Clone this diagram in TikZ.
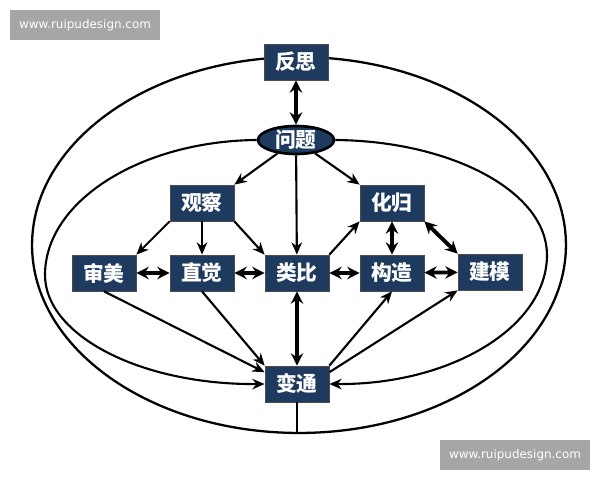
\documentclass[tikz,border=0pt]{standalone}
\usepackage{fontspec}
\newfontfamily\cjk{Noto Sans CJK SC}
\newfontfamily\wmfont{DejaVu Sans}
\usetikzlibrary{arrows.meta, shapes.geometric}
\definecolor{navy}{RGB}{30,58,95}
\definecolor{wmgray}{RGB}{166,166,166}

\begin{document}
\begin{tikzpicture}[x=0.02cm, y=-0.02cm,
    box/.style={rectangle, fill=navy, draw=black!70, text=white, minimum width=1.28cm, minimum height=0.72cm, inner sep=0pt, font=\cjk\bfseries\fontsize{11.8}{13}\selectfont},
    oval/.style={ellipse, fill=navy, draw=black, line width=1.5pt, text=white, minimum width=1.52cm, minimum height=0.56cm, inner sep=0pt, font=\cjk\bfseries\fontsize{11.8}{13}\selectfont},
    wmark/.style={rectangle, fill=wmgray, text=white, minimum width=3cm, minimum height=0.6cm, inner sep=0pt, font=\wmfont\fontsize{6.8}{8}\selectfont},
    single/.style={-{Stealth[length=7pt,width=6pt]}, line width=1.2pt},
    both/.style={{Stealth[length=7pt,width=7pt]}-{Stealth[length=7pt,width=7pt]}, line width=2.2pt},
    loop/.style={line width=1.3pt}]
    \useasboundingbox (0,0) rectangle (600,480);

    \draw[loop] (299,245) circle [x radius=5.34cm, y radius=3.76cm];
    \coordinate (rim) at (299,433);

    \node[box] (fansi) at (296,62) {反思};
    \node[oval] (wenti) at (296,140) {问题};
    \node[box] (guancha) at (202,203) {观察};
    \node[box] (huagui) at (392,203) {化归};
    \node[box] (shenmei) at (104,273) {审美};
    \node[box] (zhijue) at (202,273) {直觉};
    \node[box] (leibi) at (297,273) {类比};
    \node[box] (gouzao) at (392,273) {构造};
    \node[box] (jianmo) at (490,272) {建模};
    \node[box] (biantong) at (297,384) {变通};

    \draw[both] (fansi) -- (wenti);
    \draw[single] (wenti) -- (guancha.north east);
    \draw[single] (wenti) -- (leibi);
    \draw[single] (wenti) -- (huagui.north west);
    \draw[single] (guancha.south west) -- (shenmei.north east);
    \draw[single] (guancha) -- (zhijue);
    \draw[single] (guancha.south east) -- (leibi.north west);
    \draw[single] (leibi.north east) -- (huagui.south west);
    \draw[both] (shenmei) -- (zhijue);
    \draw[both] (zhijue) -- (leibi);
    \draw[both] (leibi) -- (gouzao);
    \draw[both] (gouzao) -- (jianmo);
    \draw[both] (huagui) -- (gouzao);
    \draw[both] (huagui.south east) -- (jianmo.north west);
    \draw[both] (leibi) -- (biantong);
    \draw[single] (shenmei.south) -- (biantong.160);
    \draw[single] (zhijue.south) -- (biantong.north west);
    \draw[single] (biantong.north east) -- (gouzao.south);
    \draw[single] (biantong.20) -- (jianmo.south west);

    \draw[single] (wenti.west) .. controls (141,141) and (45,201) .. (45,275)
        .. controls (45,335) and (140,385) .. (biantong.west);
    \draw[single] (wenti.east) .. controls (452,141) and (547,192) .. (547,255)
        .. controls (547,327) and (451,385) .. (biantong.east);
    \draw[loop] (biantong.south) -- (biantong.south |- rim);

    \node[wmark] (wm1) at (85,25) {www.ruipudesign.com};
    \node[wmark] (wm2) at (515,455) {www.ruipudesign.com};
\end{tikzpicture}
\end{document}
